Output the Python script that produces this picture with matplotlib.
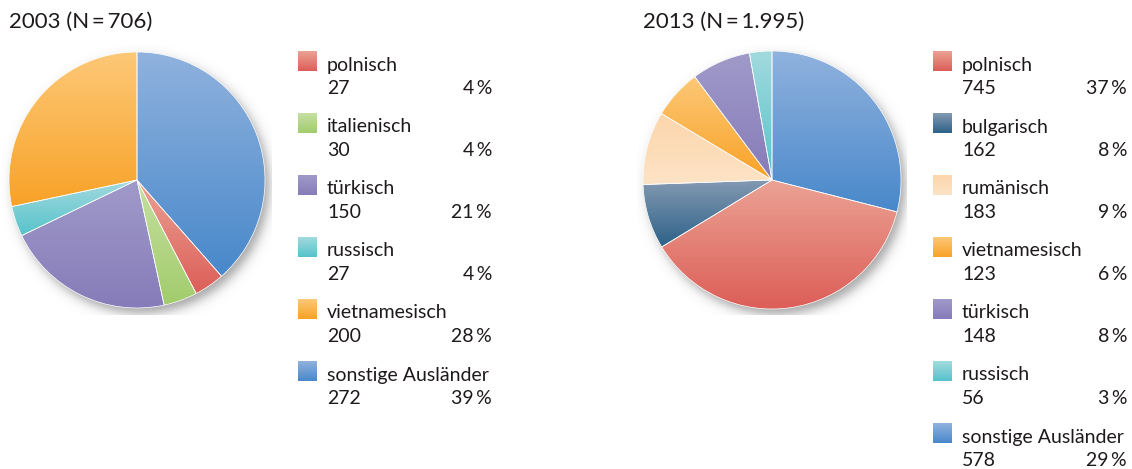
import numpy as np
import matplotlib
matplotlib.use("Agg")
import matplotlib.pyplot as plt
from matplotlib.colors import LinearSegmentedColormap, to_rgb

plt.rcParams['font.family'] = ['Lato', 'DejaVu Sans']

# ---------------- data ----------------
title_2003 = "2003 (N\u2009=\u2009706)"
labels_2003 = ['polnisch', 'italienisch', 'türkisch', 'russisch', 'vietnamesisch', 'sonstige Ausländer']
counts_2003 = [27, 30, 150, 27, 200, 272]
pct_2003 = [4, 4, 21, 4, 28, 39]

title_2013 = "2013 (N\u2009=\u20091.995)"
labels_2013 = ['polnisch', 'bulgarisch', 'rumänisch', 'vietnamesisch', 'türkisch', 'russisch', 'sonstige Ausländer']
counts_2013 = [745, 162, 183, 123, 148, 56, 578]
pct_2013 = [37, 8, 9, 6, 8, 3, 29]

# (top colour, bottom colour) for gradient fills
colors = {
    'polnisch': ('#EBA294', '#DC5E58'),
    'italienisch': ('#C6E0A2', '#A2CC6C'),
    'türkisch': ('#A09AC9', '#867CB9'),
    'russisch': ('#A2DADE', '#56C2CB'),
    'vietnamesisch': ('#FDC877', '#F8A227'),
    'sonstige Ausländer': ('#90B2DE', '#4888CA'),
    'bulgarisch': ('#8399B1', '#2D6189'),
    'rumänisch': ('#FCD6AC', '#FDE3C6'),
}

W, H = 1132, 469
fig = plt.figure(figsize=(W / 100, H / 100), dpi=100)


def gradient_cmap(top, bottom):
    return LinearSegmentedColormap.from_list('g', [to_rgb(bottom), to_rgb(top)])


def draw_pie(cx, cy, r, labels, counts):
    half = 135
    ax = fig.add_axes([(cx - half) / W, (H - cy - half) / H, 2 * half / W, 2 * half / H])
    R = half / r
    # pie order: "sonstige" first, clockwise from top, then legend order
    order = [len(labels) - 1] + list(range(len(labels) - 1))
    vals = [counts[i] for i in order]
    names = [labels[i] for i in order]
    # soft shadow
    g = np.linspace(-R, R, 400)
    X, Y = np.meshgrid(g, g)
    d = np.hypot(X - 0.035, Y + 0.045)
    alpha = 0.5 / (1 + np.exp((d - 1.0) / 0.025))
    img = np.zeros((400, 400, 4))
    img[..., :3] = 0.3
    img[..., 3] = alpha
    ax.imshow(img, extent=(-R, R, -R, R), origin='lower', zorder=0, interpolation='bilinear')
    wedges, _ = ax.pie(vals, startangle=90, counterclock=False, radius=1.0,
                       wedgeprops=dict(edgecolor='white', linewidth=0.5))
    for w, n in zip(wedges, names):
        w.set_zorder(3)
        th = np.radians(np.linspace(w.theta1, w.theta2, 300))
        ys = np.concatenate([[0.0], np.sin(th)])
        y0, y1 = ys.min(), ys.max()
        top, bottom = colors[n]
        grad = np.linspace(0, 1, 256).reshape(-1, 1)
        im = ax.imshow(grad, extent=(-1, 1, y0, y1), origin='lower',
                       cmap=gradient_cmap(top, bottom), aspect='auto', zorder=2,
                       interpolation='bilinear')
        im.set_clip_path(w)
        w.set_facecolor('none')
    ax.set_xlim(-R, R)
    ax.set_ylim(-R, R)
    ax.set_aspect('equal')
    ax.axis('off')


draw_pie(137, 180, 128, labels_2003, counts_2003)
draw_pie(772, 180, 129, labels_2013, counts_2013)

# overlay axes in pixel coordinates for titles and legends
ov = fig.add_axes([0, 0, 1, 1])
ov.set_xlim(0, W)
ov.set_ylim(H, 0)
ov.axis('off')
ov.patch.set_alpha(0)

txt_color = '#1E1A1B'
ov.text(9, 28, title_2003, fontsize=16, color=txt_color, va='baseline', ha='left')
ov.text(643, 28, title_2013, fontsize=16, color=txt_color, va='baseline', ha='left')


def draw_legend(xsq, xtxt, xpct, labels, counts, pcts):
    for i, (lab, c, p) in enumerate(zip(labels, counts, pcts)):
        y = 51 + 62 * i
        top, bottom = colors[lab]
        grad = np.linspace(1, 0, 64).reshape(-1, 1)
        ov.imshow(grad, extent=(xsq, xsq + 19, y + 20, y), origin='upper',
                  cmap=gradient_cmap(top, bottom), aspect='auto', interpolation='bilinear')
        ov.text(xtxt, y + 19.5, lab, fontsize=14, color=txt_color, va='baseline', ha='left')
        ov.text(xtxt, y + 42.5, str(c), fontsize=14, color=txt_color, va='baseline', ha='left')
        ov.text(xpct, y + 42.5, f"{p}\u2009%", fontsize=14, color=txt_color, va='baseline', ha='right')


draw_legend(298, 327, 492, labels_2003, counts_2003, pct_2003)
draw_legend(933, 962, 1127, labels_2013, counts_2013, pct_2013)
ov.set_xlim(0, W)
ov.set_ylim(H, 0)

fig.savefig('out.png', dpi=100, facecolor='white')
